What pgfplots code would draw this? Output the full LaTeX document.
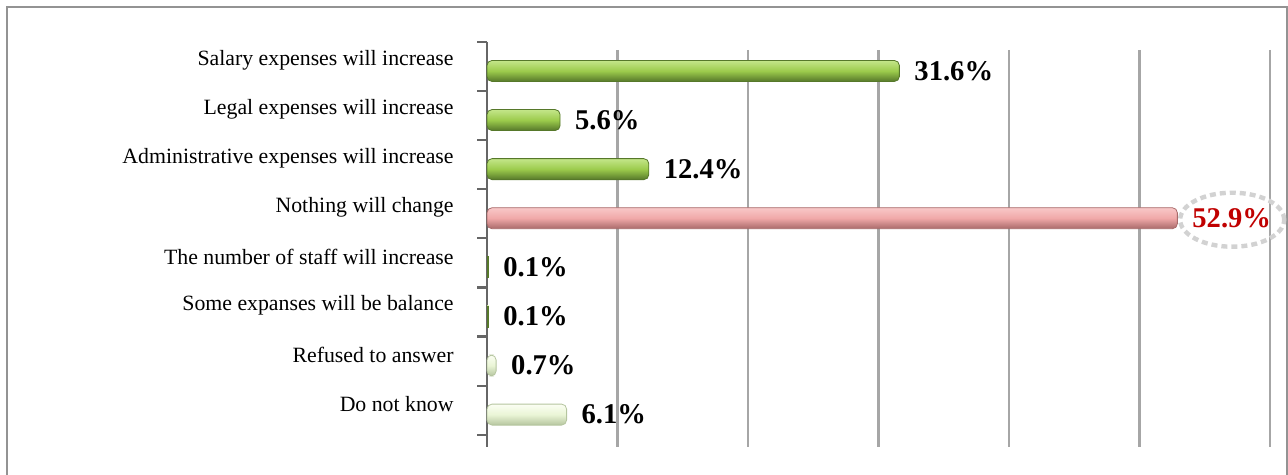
\documentclass[border=0pt]{standalone}
\usepackage{pgfplots}
\pgfplotsset{compat=1.18}
\usepackage{fontspec}
\setmainfont{Liberation Serif}

\definecolor{gtop}{HTML}{C4E68A}
\definecolor{gmid}{HTML}{9CCB4C}
\definecolor{gbot}{HTML}{56782A}
\definecolor{ptop}{HTML}{F8C8C8}
\definecolor{pmid}{HTML}{F0A8A8}
\definecolor{pbot}{HTML}{A86A6A}
\definecolor{ltop}{HTML}{FBFEF3}
\definecolor{lmid}{HTML}{EAF5D6}
\definecolor{lbot}{HTML}{B5C59F}
\definecolor{gridgray}{HTML}{A6A6A6}
\definecolor{labred}{HTML}{C00000}

\pgfplotsset{
  greenbar/.style={draw=gbot, top color=gtop, bottom color=gbot, middle color=gmid, rounded corners=2.5pt},
  pinkbar/.style={draw=pbot, top color=ptop, bottom color=pbot, middle color=pmid, rounded corners=2.5pt},
  palebar/.style={draw=lbot, top color=ltop, bottom color=lbot, middle color=lmid, rounded corners=2.5pt},
}

\begin{document}
\begin{tikzpicture}
% page = 1288 x 475 px, 1 px = 0.5pt
\useasboundingbox (0,0) rectangle (644pt,237.5pt);
\draw[color=gray!85, line width=1.2pt] (3.5pt,-5pt) rectangle (643.5pt,234pt);

\begin{axis}[
    at={(243.5pt,14pt)}, anchor=south west,
    scale only axis,
    width=391.5pt, height=202.5pt,
    xmin=0, xmax=60,
    ymin=0, ymax=8.25,
    y dir=reverse,
    axis x line=none,
    axis y line=left,
    axis line style={-, draw=gray!80!black, line width=1.1pt},
    ytick={0.37,1.37,2.37,3.37,4.37,5.37,6.37,7.37},
    yticklabels={Salary expenses will increase,
                 Legal expenses will increase,
                 Administrative expenses will increase,
                 Nothing will change,
                 The number of staff will increase,
                 Some expanses will be balance,
                 Refused to answer,
                 Do not know},
    major tick length=0pt,
    ytick style={draw=none},
    yticklabel style={font=\fontsize{10.9pt}{12pt}\selectfont, inner sep=0pt, xshift=-16.5pt},
    xbar, bar shift=0pt, bar width=10.5pt,
    /pgf/number format/assume math mode=true,
    point meta=x,
    nodes near coords={\pgfmathprintnumber[fixed,precision=1,fixed zerofill]{\pgfplotspointmeta}\%},
    nodes near coords align=horizontal,
    every node near coord/.append style={font=\fontsize{14.3pt}{16pt}\selectfont\bfseries, color=black, xshift=4pt},
    clip=false,
]
% grid lines on the back wall
\pgfplotsinvokeforeach{10,20,30,40,50,60}{
  \draw[gridgray, line width=1.2pt] (axis cs:#1,0.16) -- (axis cs:#1,8.25);
}
% tick marks between categories
\pgfplotsinvokeforeach{0,...,8}{
  \draw[gray!80!black, line width=1.1pt] (axis cs:0,#1) -- ++(-5pt,0);
}

\addplot[greenbar] coordinates {(31.6,0.59)};
\addplot[greenbar] coordinates {(5.6,1.59)};
\addplot[greenbar] coordinates {(12.4,2.59)};
\addplot[pinkbar, every node near coord/.append style={color=labred}] coordinates {(52.9,3.59)};
\addplot[greenbar, rounded corners=0pt] coordinates {(0.1,4.59)};
\addplot[greenbar, rounded corners=0pt] coordinates {(0.1,5.59)};
\addplot[palebar] coordinates {(0.7,6.59)};
\addplot[palebar] coordinates {(6.1,7.59)};

\draw[gray!35, line width=2.2pt, dash pattern=on 3pt off 2pt]
  (axis cs:57.1,3.62) ellipse [x radius=26pt, y radius=13.5pt];
\end{axis}
\end{tikzpicture}
\end{document}
